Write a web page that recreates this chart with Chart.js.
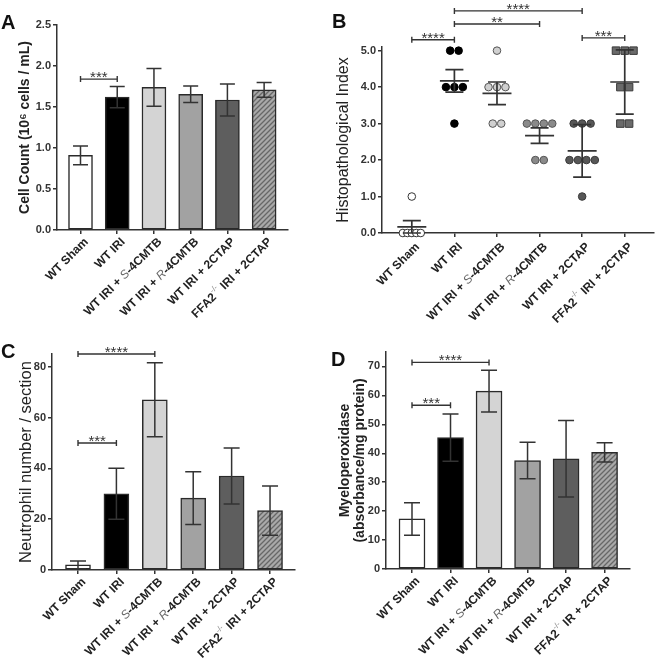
<!DOCTYPE html>
<html><head><meta charset="utf-8">
<script src="https://cdn.jsdelivr.net/npm/chart.js@4.4.1/dist/chart.umd.min.js"></script>
<style>
body{margin:0;background:#fff;width:660px;height:666px;position:relative;overflow:hidden;font-family:"Liberation Sans",Arial,sans-serif}
.p{position:absolute}
.lbl{position:absolute;font:bold 20px/20px "Liberation Sans",Arial,sans-serif;color:#111}
</style></head><body>
<div class="p" style="left:0;top:0"><canvas id="cA" width="330" height="330"></canvas></div>
<div class="p" style="left:330px;top:0"><canvas id="cB" width="330" height="330"></canvas></div>
<div class="p" style="left:0;top:330px"><canvas id="cC" width="330" height="336"></canvas></div>
<div class="p" style="left:330px;top:330px"><canvas id="cD" width="330" height="336"></canvas></div>
<div class="lbl" style="left:1px;top:12px">A</div>
<div class="lbl" style="left:332px;top:11px">B</div>
<div class="lbl" style="left:1px;top:341px">C</div>
<div class="lbl" style="left:331px;top:349px">D</div>
<script>
// ---------- data ----------
const groups = ['WT Sham','WT IRI','WT IRI + S-4CMTB','WT IRI + R-4CMTB','WT IRI + 2CTAP','FFA2-/- IRI + 2CTAP'];
const xLabels = [
  [['WT Sham']],
  [['WT IRI']],
  [['WT IRI + '],['S','it'],['-4CMTB']],
  [['WT IRI + '],['R','it'],['-4CMTB']],
  [['WT IRI + 2CTAP']],
  [['FFA2'],['-/-','sup'],[' IRI + 2CTAP']]
];
const xLabelsD = [
  [['WT Sham']],
  [['WT IRI']],
  [['WT IRI + '],['S','it'],['-4CMTB']],
  [['WT IRI + '],['R','it'],['-4CMTB']],
  [['WT IRI + 2CTAP']],
  [['FFA2'],['-/-','sup'],[' IR + 2CTAP']]
];
// A: cell count
const cellCount    = [0.91, 1.62, 1.74, 1.655, 1.585, 1.71];
const cellCountErr = [0.115, 0.13, 0.23, 0.10, 0.195, 0.09];
const ticksA = [0, 0.5, 1.0, 1.5, 2.0, 2.5];
const sigA = [[0, 1, 1.84, '***']];
// B: histopathological index (individual animals)
const histoPoints = [
  [0, 0, 0, 0, 0, 1],
  [5, 5, 4, 4, 4, 3],
  [5, 4, 4, 4, 3, 3],
  [3, 3, 3, 3, 2, 2],
  [3, 3, 3, 2, 2, 2, 2, 1],
  [5, 5, 5, 4, 4, 3, 3]
];
const histoMean = [0.17, 4.17, 3.83, 2.67, 2.25, 4.14];
const histoErr  = [0.17, 0.31, 0.31, 0.21, 0.72, 0.88];
const ticksB = [0, 1, 2, 3, 4, 5];
const sigB = [[0, 1, 5.30, '****'], [1, 3, 5.73, '**'], [1, 4, 6.09, '****'], [4, 5, 5.35, '***']];
// C: neutrophils
const neutrophils    = [2.0, 30.0, 67.0, 28.3, 37.0, 23.4];
const neutrophilsErr = [1.5, 10.0, 14.6, 10.4, 11.0, 9.7];
const ticksC = [0, 20, 40, 60, 80];
const sigC = [[0, 1, 50, '***'], [0, 2, 85, '****']];
// D: myeloperoxidase
const mpo    = [17.3, 45.4, 61.5, 37.5, 38.1, 40.3];
const mpoErr = [5.6, 8.2, 7.2, 6.3, 13.2, 3.3];
const ticksD = [0, 10, 20, 30, 40, 50, 60, 70];
const sigD = [[0, 1, 56.6, '***'], [0, 2, 71.4, '****']];

// ---------- styles ----------
const FF = '"Liberation Sans", Arial, sans-serif';
const AX = '#333';
function hatch(ctx){
  const c=document.createElement('canvas'); c.width=c.height=5;
  const g=c.getContext('2d'); g.fillStyle='#a9a9a9'; g.fillRect(0,0,5,5);
  g.strokeStyle='#676767'; g.lineWidth=1.3; g.beginPath();
  g.moveTo(0,5); g.lineTo(5,0); g.moveTo(-1,1); g.lineTo(1,-1); g.moveTo(4,6); g.lineTo(6,4); g.stroke();
  return ctx.createPattern(c,'repeat');
}
function fills(ctx){ return ['#ffffff','#000000','#d4d4d4','#a2a2a2','#5e5e5e', hatch(ctx)]; }

function errorBars(vals, errs, capW){
  return {id:'eb', afterDatasetsDraw(chart){
    const {ctx, scales:{x,y}} = chart;
    ctx.save(); ctx.strokeStyle=AX; ctx.lineWidth=1.5;
    vals.forEach((v,i)=>{
      const px=x.getPixelForValue(i), t=y.getPixelForValue(v+errs[i]), b=y.getPixelForValue(Math.max(0,v-errs[i]));
      ctx.beginPath(); ctx.moveTo(px,t); ctx.lineTo(px,b);
      ctx.moveTo(px-capW/2,t); ctx.lineTo(px+capW/2,t);
      ctx.moveTo(px-capW/2,b); ctx.lineTo(px+capW/2,b); ctx.stroke();
    });
    ctx.restore();
  }};
}
function meanSD(means, errs, meanW, capW){
  return {id:'msd', afterDatasetsDraw(chart){
    const {ctx, scales:{x,y}} = chart;
    ctx.save(); ctx.strokeStyle=AX; ctx.lineWidth=1.7;
    means.forEach((m,i)=>{
      const px=x.getPixelForValue(i), pm=y.getPixelForValue(m), t=y.getPixelForValue(m+errs[i]), b=y.getPixelForValue(Math.max(0,m-errs[i]));
      ctx.beginPath(); ctx.moveTo(px-meanW/2,pm); ctx.lineTo(px+meanW/2,pm);
      ctx.moveTo(px,t); ctx.lineTo(px,b);
      ctx.moveTo(px-capW/2,t); ctx.lineTo(px+capW/2,t);
      ctx.moveTo(px-capW/2,b); ctx.lineTo(px+capW/2,b); ctx.stroke();
    });
    ctx.restore();
  }};
}
function brackets(list){
  return {id:'br', afterDraw(chart){
    const {ctx, scales:{x,y}} = chart;
    ctx.save(); ctx.strokeStyle=AX; ctx.fillStyle=AX; ctx.lineWidth=1.4;
    ctx.font='15px '+FF; ctx.textAlign='center'; ctx.textBaseline='alphabetic';
    list.forEach(([a,b,v,txt])=>{
      const x1=x.getPixelForValue(a), x2=x.getPixelForValue(b), py=y.getPixelForValue(v);
      ctx.beginPath(); ctx.moveTo(x1,py); ctx.lineTo(x2,py);
      ctx.moveTo(x1,py-3); ctx.lineTo(x1,py+3); ctx.moveTo(x2,py-3); ctx.lineTo(x2,py+3); ctx.stroke();
      ctx.fillText(txt,(x1+x2)/2,py+3);
    });
    ctx.restore();
  }};
}
function segFont(s){ return s[1]==='it' ? 'italic 12px '+FF : s[1]==='sup' ? '8px '+FF : 'bold 12px '+FF; }
function segColor(s){ return s[1]==='it' ? '#6a6a6a' : s[1]==='sup' ? '#888' : '#222'; }
function xLabelPlugin(labels, dx, dy){
  return {id:'xl', afterDraw(chart){
    const {ctx, scales:{x}} = chart; const base=chart.chartArea.bottom;
    labels.forEach((segs,i)=>{
      const px=x.getPixelForValue(i);
      ctx.save(); ctx.translate(px+dx, base+dy); ctx.rotate(-Math.PI/4);
      ctx.textBaseline='middle'; ctx.textAlign='left';
      let total=0; segs.forEach(s=>{ctx.font=segFont(s); total+=ctx.measureText(s[0]).width;});
      let cx=-total;
      segs.forEach(s=>{ctx.font=segFont(s); ctx.fillStyle=segColor(s); ctx.fillText(s[0],cx,s[1]==='sup'?-5:0); cx+=ctx.measureText(s[0]).width;});
      ctx.restore();
    });
  }};
}
function yScale(c){
  return {min:0, max:c.ymax,
    afterBuildTicks:s=>{s.ticks=c.ticks.map(v=>({value:v}));},
    afterFit:s=>{s.width=c.left;},
    ticks:{font:{family:FF,size:11,weight:'bold'}, color:'#333', padding:2, callback:v=>Number(v).toFixed(c.dec)},
    grid:{display:true, drawOnChartArea:false, drawTicks:true, tickLength:4, color:AX, lineWidth:1.5},
    border:{display:true, color:AX, width:1.5},
    title:{display:true, text:c.title, color:'#222', font:c.titleFont, padding:{top:c.tpad, bottom:0}}
  };
}
function xScale(c){
  return {type:'linear', min:c.xmin, max:c.xmax, offset:false,
    afterBuildTicks:s=>{s.ticks=[0,1,2,3,4,5].map(v=>({value:v}));},
    afterFit:s=>{s.height=6;},
    ticks:{display:false},
    grid:{display:true, offset:false, drawOnChartArea:false, drawTicks:true, tickLength:4, color:AX, lineWidth:1.5},
    border:{display:true, color:AX, width:1.5}
  };
}
function barChart(id, vals, errs, c){
  const el=document.getElementById(id); const ctx=el.getContext('2d');
  return new Chart(ctx, {
    type:'bar',
    data:{datasets:[{data:vals.map((v,i)=>({x:i,y:v})), backgroundColor:fills(ctx), borderColor:'#2a2a2a', borderWidth:1.5, borderSkipped:false, barThickness:c.barW}]},
    options:{responsive:false, animation:false, devicePixelRatio:1,
      layout:{padding:{left:0, top:c.top, right:c.right, bottom:c.bottom}},
      plugins:{legend:{display:false}, tooltip:{enabled:false}},
      scales:{x:xScale(c), y:yScale(c)}
    },
    plugins:[errorBars(vals, errs, c.capW), brackets(c.sig), xLabelPlugin(c.labels, 6, 10)]
  });
}

// ---------- A ----------
barChart('cA', cellCount, cellCountErr, {
  left:57, top:25, right:42, bottom:94, xmin:-0.64, xmax:5.65, ymax:2.5, ticks:ticksA, dec:1,
  barW:24, capW:15, sig:sigA, labels:xLabels,
  title:'Cell Count (10\u2076 cells / mL)', titleFont:{family:FF,size:14,weight:'bold'}, tpad:17
});
// ---------- C ----------
barChart('cC', neutrophils, neutrophilsErr, {
  left:52, top:24, right:35, bottom:90, xmin:-0.677, xmax:5.65, ymax:85, ticks:ticksC, dec:0,
  barW:25, capW:16, sig:sigC, labels:xLabels,
  title:'Neutrophil number / section', titleFont:{family:FF,size:16.5,weight:'normal'}, tpad:17
});
// ---------- D ----------
barChart('cD', mpo, mpoErr, {
  left:56, top:22, right:30, bottom:91, xmin:-0.675, xmax:5.66, ymax:75, ticks:ticksD, dec:0,
  barW:26, capW:16, sig:sigD, labels:xLabelsD,
  title:['Myeloperoxidase','(absorbance/mg protein)'], titleFont:{family:FF,size:14,weight:'bold',lineHeight:1.07}, tpad:8
});
// ---------- B ----------
(function(){
  const cB={left:52, top:47, right:5, bottom:91, xmin:-0.70, xmax:5.68, ymax:5.1, ticks:ticksB, dec:1,
    title:'Histopathological Index', titleFont:{family:FF,size:16,weight:'normal'}, tpad:4};
  const pxPerUnit = (330-cB.right-cB.left)/(cB.xmax-cB.xmin);
  const fillsB=['#ffffff','#000000','#d0d0d0','#8a8a8a','#575757','#6a6a6a'];
  const edgesB=['#333','#000','#555','#555','#3a3a3a','#3a3a3a'];
  const datasets=histoPoints.map((pts,g)=>{
    const counts={}; pts.forEach(v=>counts[v]=(counts[v]||0)+1);
    const seen={};
    const data=pts.map(v=>{
      const n=counts[v]; const k=(seen[v]=(seen[v]||0)+1)-1;
      const sp=n>=5?4.5:(g===5?8.8:8.5);
      return {x:g+(k-(n-1)/2)*sp/pxPerUnit, y:v};
    });
    return {data, pointStyle:g===5?'rect':'circle', pointRadius:g===5?5.3:3.8, backgroundColor:fillsB[g], borderColor:edgesB[g], borderWidth:1, clip:false};
  });
  new Chart(document.getElementById('cB').getContext('2d'), {
    type:'scatter',
    data:{datasets},
    options:{responsive:false, animation:false, devicePixelRatio:1,
      layout:{padding:{left:0, top:cB.top, right:cB.right, bottom:cB.bottom}},
      plugins:{legend:{display:false}, tooltip:{enabled:false}},
      scales:{x:xScale(cB), y:yScale(cB)}
    },
    plugins:[meanSD(histoMean, histoErr, 29, 18), brackets(sigB), xLabelPlugin(xLabels, 6, 12)]
  });
})();
</script>
</body></html>
